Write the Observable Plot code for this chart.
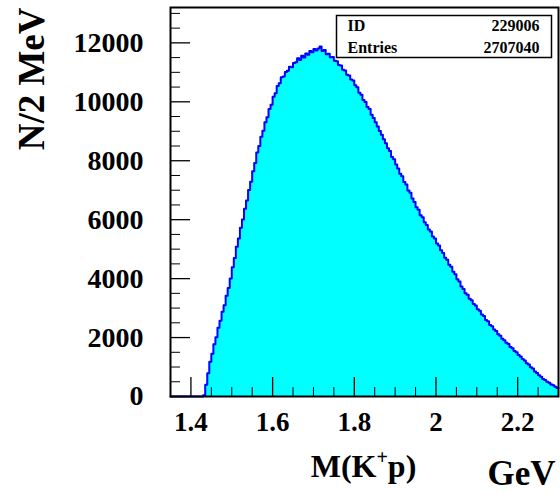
<!DOCTYPE html>
<html><head><meta charset="utf-8">
<script src="https://cdn.jsdelivr.net/npm/d3@7"></script>
<script src="https://cdn.jsdelivr.net/npm/@observablehq/plot@0.6"></script>
<style>
html,body{margin:0;padding:0;background:#fff;}
</style></head><body><div id="chart"></div>
<script>
const histId = "229006";
const histEntries = "2707040";
const yTitle = "N/2 MeV";
const xTitle = "M(K+p)";
const xUnit = "GeV";
const binStart = 1.35;
const binWidth = 0.005;
const counts = [
  0,0,0,0,0,0,0,0,0,0,0,0,0,0,0,0,
  40,400,790,1180,1450,1770,2010,2330,2570,2880,
  3100,3420,3680,4000,4390,4700,5080,5360,5730,6010,
  6370,6650,7010,7290,7640,7920,8280,8500,8810,9020,
  9310,9480,9760,9900,10170,10290,10540,10630,10830,10860,
  11010,11050,11190,11170,11320,11340,11480,11420,11560,11500,
  11640,11600,11720,11680,11790,11740,11810,11880,11720,11760,
  11610,11630,11510,11520,11390,11380,11250,11230,11090,11060,
  10920,10890,10760,10720,10560,10490,10310,10240,10060,9990,
  9820,9760,9560,9450,9310,9160,9010,8880,8730,8590,
  8420,8330,8130,8050,7870,7740,7560,7470,7280,7190,
  6990,6910,6720,6600,6420,6340,6150,6080,5910,5820,
  5670,5600,5430,5360,5190,5120,4960,4870,4710,4640,
  4470,4400,4230,4150,3980,3900,3730,3650,3500,3450,
  3320,3270,3140,3090,2960,2910,2780,2730,2600,2550,
  2430,2380,2270,2220,2110,2060,1960,1910,1820,1780,
  1680,1640,1540,1500,1410,1360,1270,1220,1130,1090,
  990,950,850,800,720,670,590,560,500,470,
  410,380,330,290
];
const xMajorTicks = [1.4, 1.6, 1.8, 2.0, 2.2];
const xTickLabels = ["1.4", "1.6", "1.8", "2", "2.2"];
const xMinorTicks = [1.35,1.45,1.5,1.55,1.65,1.7,1.75,1.85,1.9,1.95,2.05,2.1,2.15,2.25,2.3];
const yMajorTicks = [0, 2000, 4000, 6000, 8000, 10000, 12000];
const yTickLabels = ["0", "2000", "4000", "6000", "8000", "10000", "12000"];
const yMinorTicks = [500,1000,1500,2500,3000,3500,4500,5000,5500,6500,7000,7500,8500,9000,9500,10500,11000,11500,12500,13000];

const steps = counts.flatMap((v, i) => [
  {x: binStart + i * binWidth, y: v},
  {x: binStart + (i + 1) * binWidth, y: v}
]);
const xLabel = new Map(xMajorTicks.map((d, i) => [d, xTickLabels[i]]));
const yLabel = new Map(yMajorTicks.map((d, i) => [d, yTickLabels[i]]));

const W = 560, H = 493, mL = 170, mR = 2, mT = 7, mB = 97;
const innerW = W - mL - mR, innerH = H - mT - mB;
const font = "'Liberation Serif','Times New Roman',serif";

const chart = Plot.plot({
  width: W, height: H,
  marginLeft: mL, marginRight: mR, marginTop: mT, marginBottom: mB,
  x: {domain: [1.35, 2.3]},
  y: {domain: [0, 13200]},
  style: {fontFamily: font, fontWeight: "bold", background: "#fff", color: "#000"},
  marks: [
    Plot.area(steps, {x1: "x", y1: 0, y2: "y", fill: "#00ffff"}),
    Plot.line(steps, {x: "x", y: "y", stroke: "#0000ff", strokeWidth: 2}),
    Plot.ruleX(xMajorTicks, {stroke: "#000", strokeWidth: 1.3, insetTop: innerH - 19}),
    Plot.ruleX(xMinorTicks, {stroke: "#000", strokeWidth: 1, insetTop: innerH - 9}),
    Plot.ruleY(yMajorTicks, {stroke: "#000", strokeWidth: 1.3, insetRight: innerW - 20}),
    Plot.ruleY(yMinorTicks, {stroke: "#000", strokeWidth: 1, insetRight: innerW - 10}),
    Plot.axisX({ticks: xMajorTicks, tickSize: 0, tickPadding: 15, tickFormat: d => xLabel.get(d), fontSize: 27, label: null}),
    Plot.axisY({ticks: yMajorTicks, tickSize: 0, tickPadding: 27, tickFormat: d => yLabel.get(d), fontSize: 28, label: null}),
    Plot.frame({stroke: "#000", strokeWidth: 2}),
    Plot.frame({fill: "#fff", stroke: "#000", strokeWidth: 1.5, insetLeft: 166, insetRight: 7, insetTop: 8, insetBottom: innerH - 50}),
    Plot.text(["ID"], {text: d => d, frameAnchor: "top-left", dx: 177, dy: 23.5, textAnchor: "start", lineAnchor: "bottom", fontSize: 16}),
    Plot.text(["Entries"], {text: d => d, frameAnchor: "top-left", dx: 177, dy: 45.5, textAnchor: "start", lineAnchor: "bottom", fontSize: 16}),
    Plot.text([histId], {text: d => d, frameAnchor: "top-right", dx: -19, dy: 23.5, textAnchor: "end", lineAnchor: "bottom", fontSize: 16}),
    Plot.text([histEntries], {text: d => d, frameAnchor: "top-right", dx: -19, dy: 45.5, textAnchor: "end", lineAnchor: "bottom", fontSize: 16}),
    Plot.text([yTitle], {text: d => d, frameAnchor: "top-left", dx: -127, dy: 0, rotate: -90, textAnchor: "end", lineAnchor: "bottom", fontSize: 37}),
    Plot.text([xTitle], {text: d => d, frameAnchor: "bottom-left", dx: 193, dy: 80, textAnchor: "middle", lineAnchor: "bottom", fontSize: 32}),
    Plot.text([xUnit], {text: d => d, frameAnchor: "bottom-right", dx: -3, dy: 88, textAnchor: "end", lineAnchor: "bottom", fontSize: 35})
  ]
});

d3.select(chart).selectAll("text").filter(function() { return this.textContent === xTitle; }).each(function() {
  const t = d3.select(this);
  t.text(null);
  t.append("tspan").text("M(K");
  t.append("tspan").attr("font-size", "20px").attr("dy", "-13").text("+");
  t.append("tspan").attr("dy", "13").text("p)");
});

document.getElementById("chart").appendChild(chart);
</script></body></html>
